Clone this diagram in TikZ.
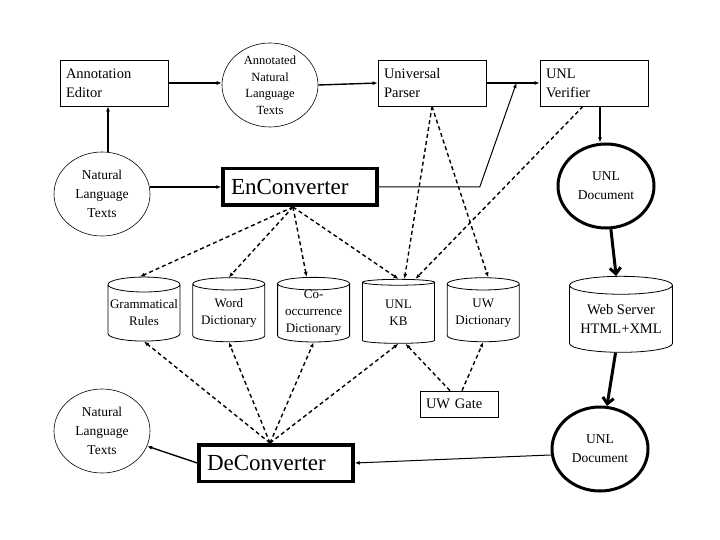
\documentclass[tikz,border=0pt]{standalone}
\usepackage{fontspec}
\setmainfont{Liberation Serif}
\usetikzlibrary{positioning,shapes.geometric,arrows.meta}

\begin{document}
\begin{tikzpicture}[x=1pt,y=-1pt,
	box/.style={draw=black,line width=0.8pt,minimum width=108pt,minimum height=46pt,text width=96pt,align=left,inner sep=6pt,font=\fontsize{14.5}{19}\selectfont},
	blob/.style={draw=black,ellipse,line width=0.6pt,minimum width=96pt,minimum height=84pt,inner sep=0pt,align=center,font=\fontsize{13.5}{19}\selectfont},
	doc/.style={blob,line width=3pt},
	conv/.style={draw=black,line width=3.5pt,text width=138pt,minimum height=36.5pt,align=left,inner sep=8pt,font=\fontsize{23}{26}\selectfont},
	store/.style={draw=black,cylinder,shape border rotate=90,aspect=0.22,line width=0.8pt,minimum width=72pt,minimum height=64pt,inner sep=0pt,align=center,font=\fontsize{13}{17}\selectfont},
	link/.style={line width=1.4pt,-{Latex[length=5pt,width=4pt]}},
	dsh/.style={line width=1.4pt,dash pattern=on 4pt off 3pt,-{Latex[length=5pt,width=4pt]}},
	big/.style={line width=3pt,-{Straight Barb[length=6pt,width=11pt]}}]
			\useasboundingbox (0,0) rectangle (720,540);
			\node[box] (edit) at (114,83) {Annotation\\Editor};
			\node[blob,font=\fontsize{12.5}{16.5}\selectfont] (annot) at (270,85) {Annotated\\Natural\\Language\\Texts};
			\node[box] (parser) at (432,83) {Universal\\Parser};
			\node[box] (verif) at (594,83) {UNL\\Verifier};
			\node[blob] (nlt) at (102,194) {Natural\\Language\\Texts};
			\node[conv] (enc) at (300,187) {EnConverter};
			\node[doc] (udoc) at (606,186) {UNL\\Document};
			\node[store] (gram) at (144,313) {Grammatical\\Rules};
			\node[store,right=12pt of gram] (word) {Word\\Dictionary};
			\node[store,right=12pt of word] (cooc) {Co-\\occurrence\\Dictionary};
			\node[store,right=12pt of cooc] (kb) {UNL\\KB};
			\node[store,right=12pt of kb] (uwd) {UW\\Dictionary};
			\node[store,minimum width=103pt,minimum height=76pt,font=\fontsize{14.5}{19}\selectfont] (web) at (621,319) {Web Server\\HTML+XML};
			\node[box,minimum width=78pt,minimum height=26pt,text width=66pt] (gate) at (459,404) {UW Gate};
			\node[blob] (nlt2) at (102,431) {Natural\\Language\\Texts};
			\node[conv] (dec) at (276,463) {DeConverter};
			\node[doc] (udoc2) at (600,449) {UNL\\Document};
			\coordinate[right=30pt of parser.east] (tap);
			\coordinate (eb) at ([xshift=-7pt]enc.south);
			\coordinate (db) at ([xshift=-6pt]dec.north);
			\draw[link] (edit.east) -- (annot.west |- edit.east);
			\draw[link] (annot.east) -- (parser.west);
			\draw[link] (parser) -- (verif);
			\draw[link] ([xshift=6pt]nlt.north) -- ([xshift=6pt]nlt.north |- edit.south);
			\draw[link] (nlt.east |- enc.west) -- (enc.west);
			\draw[link,line width=1pt] (enc.east) -- ++(101,0) -- (tap);
			\draw[link] ([xshift=6pt]verif.south) -- ([xshift=6pt]verif.south |- udoc.north);
			\draw[big] (udoc) -- (web);
			\draw[big] (web) -- (udoc2);
			\draw[link] (dec.west) -- (nlt2);
			\draw[link,line width=1pt] ([yshift=-6pt]udoc2.west) -- (dec.east);
			\draw[dsh] (eb) -- ([xshift=-4pt]gram.north);
			\draw[dsh] (eb) -- (word.north);
			\draw[dsh] (eb) -- ([xshift=-7pt]cooc.north);
			\draw[dsh] (eb) -- (kb.north);
			\draw[dsh] (parser.south) -- ([xshift=6pt]kb.north);
			\draw[dsh] (parser.south) -- ([xshift=5pt]uwd.north);
			\draw[dsh] ([xshift=-11pt]verif.south) -- ([xshift=17pt]kb.north);
			\draw[dsh] (db) -- (gram.south);
			\draw[dsh] (db) -- (word.south);
			\draw[dsh] (db) -- (cooc.south);
			\draw[dsh] (db) -- (kb.south);
			\draw[dsh] ([xshift=-9pt]gate.north) -- ([xshift=7pt]kb.south);
			\draw[dsh] ([xshift=3pt]gate.north) -- (uwd.south);
		\end{tikzpicture}
\end{document}
